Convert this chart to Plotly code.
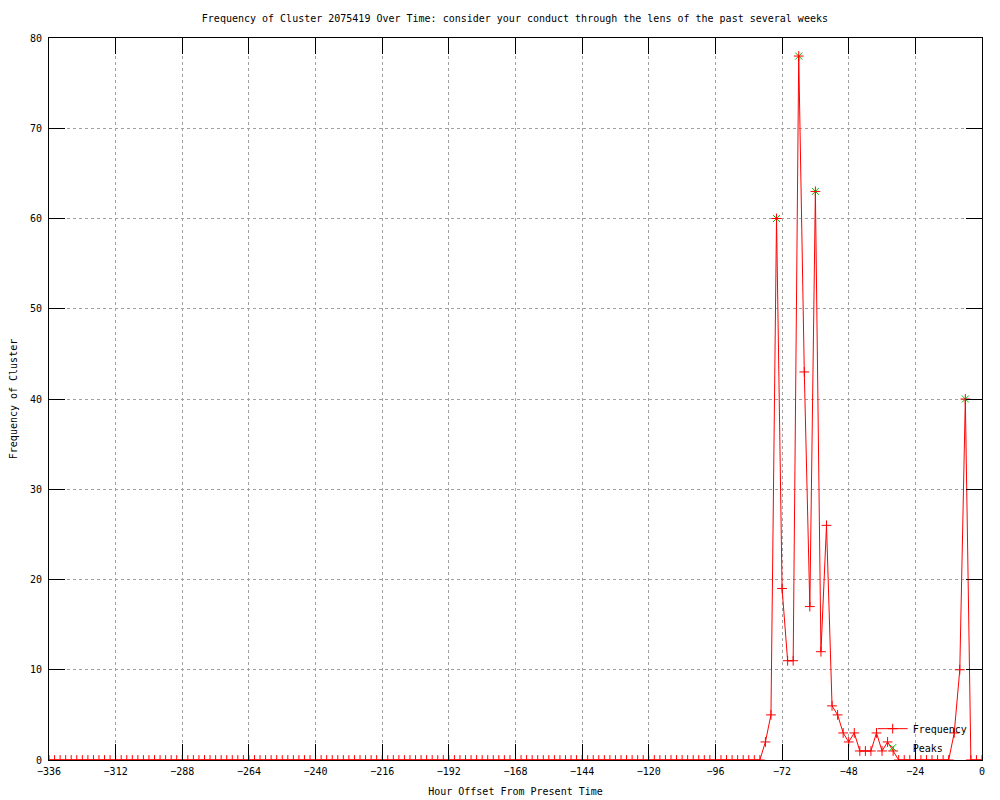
import plotly.graph_objects as go

# ---- data ----
hours = list(range(-336, 1, 2))  # sampling grid, every 2 hours

frequency = [
    # -336 .. -80 (all zero)
    0, 0, 0, 0, 0, 0, 0, 0, 0, 0, 0, 0, 0, 0, 0, 0,
    0, 0, 0, 0, 0, 0, 0, 0, 0, 0, 0, 0, 0, 0, 0, 0,
    0, 0, 0, 0, 0, 0, 0, 0, 0, 0, 0, 0, 0, 0, 0, 0,
    0, 0, 0, 0, 0, 0, 0, 0, 0, 0, 0, 0, 0, 0, 0, 0,
    0, 0, 0, 0, 0, 0, 0, 0, 0, 0, 0, 0, 0, 0, 0, 0,
    0, 0, 0, 0, 0, 0, 0, 0, 0, 0, 0, 0, 0, 0, 0, 0,
    0, 0, 0, 0, 0, 0, 0, 0, 0, 0, 0, 0, 0, 0, 0, 0,
    0, 0, 0, 0, 0, 0, 0, 0, 0, 0, 0, 0, 0, 0, 0, 0,
    0,
    # -78 .. -32
    2, 5, 60, 19, 11, 11, 78, 43, 17, 63, 12, 26,
    6, 5, 3, 2, 3, 1, 1, 1, 3, 1, 2, 1,
    # -30 .. -12
    0, 0, 0, 0, 0, 0, 0, 0, 0, 0,
    # -10 .. 0
    3, 10, 40, 0, 0, 0,
]

peak_hours = [-74, -66, -60, -6]
peak_values = [60, 78, 63, 40]

x_ticks = [-336, -312, -288, -264, -240, -216, -192, -168, -144, -120, -96, -72, -48, -24, 0]
y_ticks = [0, 10, 20, 30, 40, 50, 60, 70, 80]

title_text = "Frequency of Cluster 2075419 Over Time: consider your conduct through the lens of the past several weeks"

FONT = "DejaVu Sans Mono"
RED = "#ff0000"
GREEN = "#00c000"

fig = go.Figure()

fig.add_trace(go.Scatter(
    x=peak_hours, y=peak_values, name="Peaks", mode="markers",
    marker=dict(symbol="x-thin", size=7, line=dict(color=GREEN, width=1), color=GREEN),
    legendrank=2,
))

fig.add_trace(go.Scatter(
    x=hours, y=frequency, name="Frequency", mode="lines+markers",
    line=dict(color=RED, width=1),
    marker=dict(symbol="cross-thin", size=7, line=dict(color=RED, width=1), color=RED),
    legendrank=1,
))

axis_common = dict(
    showline=True, linecolor="black", linewidth=1, mirror="ticks",
    ticks="inside", ticklen=16, tickcolor="black", tickwidth=1,
    showgrid=True, gridcolor="#a0a0a0", gridwidth=1, griddash="3px,3px",
    zeroline=False, automargin=False,
    tickfont=dict(family=FONT, size=10, color="black"),
)

# the page body adds an 8px offset, so the figure is 992x792
fig.update_layout(
    width=992, height=792,
    paper_bgcolor="white", plot_bgcolor="white",
    margin=dict(l=41, r=18, t=30, b=40, autoexpand=False),
    font=dict(family=FONT, size=10, color="black"),
    title=dict(text=title_text, x=0.511, xanchor="center", y=0.987, yanchor="middle",
               font=dict(family=FONT, size=10, color="black")),
    xaxis=dict(range=[-336, 0], tickvals=x_ticks, ticklabelstandoff=2,
               title=dict(text="Hour Offset From Present Time", standoff=11,
                          font=dict(family=FONT, size=10)),
               **axis_common),
    yaxis=dict(range=[0, 80], tickvals=y_ticks, ticklabelstandoff=4,
               title=dict(text="Frequency of Cluster", standoff=10,
                          font=dict(family=FONT, size=10)),
               **axis_common),
    legend=dict(x=0.99, xanchor="right", y=-0.003, yanchor="bottom",
                bgcolor="rgba(0,0,0,0)", borderwidth=0,
                font=dict(family=FONT, size=10), itemwidth=30, tracegroupgap=0),
    showlegend=True,
)

fig.write_html("out.html")
